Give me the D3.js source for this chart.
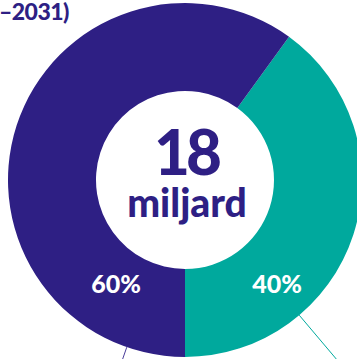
<!DOCTYPE html>
<html>
<head>
<meta charset="utf-8">
<script src="https://cdn.jsdelivr.net/npm/d3@7"></script>
<style>
  html, body { margin: 0; padding: 0; background: #fff; }
  svg { display: block; }
</style>
</head>
<body>
<svg id="chart" width="357" height="359"></svg>
<script>
// Share of the total, split in two parts
const categories = ["Del A", "Del B"];
const shares = [40, 60];
const shareLabels = ["40%", "60%"];
const colors = ["#00a99d", "#2e1f84"];
const totalValue = "18";
const totalUnit = "miljard";
const titleText = "–2031)";

const width = 357, height = 359;
const cx = 185, cy = 180;
const outerR = 177, innerR = 89;
const deg = Math.PI / 180;

const svg = d3.select("#chart");

// Title, continuing past the left edge
svg.append("text")
  .attr("x", 69).attr("y", 20)
  .attr("text-anchor", "end")
  .attr("font-family", "Lato, 'Open Sans', sans-serif")
  .attr("font-weight", 900)
  .attr("font-size", 23)
  .attr("letter-spacing", -0.5)
  .attr("fill", "#2e1f84")
  .text(titleText);

const g = svg.append("g").attr("transform", `translate(${cx},${cy})`);

// The first slice ends straight down, at 6 o'clock
const start = Math.PI - (shares[0] / d3.sum(shares)) * 2 * Math.PI;
const pie = d3.pie().sort(null).value(d => d)
  .startAngle(start).endAngle(start + 2 * Math.PI);
const arcs = pie(shares);
const arc = d3.arc().innerRadius(innerR).outerRadius(outerR);

g.selectAll("path.slice")
  .data(arcs)
  .enter().append("path")
  .attr("class", "slice")
  .attr("d", arc)
  .attr("fill", (d, i) => colors[i]);

// Leader lines running out to labels beyond the frame
const leaderAngles = [139.8, 199.2];
const leaderColors = ["#00a99d", "#4a3c99"];
g.selectAll("line.leader")
  .data(leaderAngles)
  .enter().append("line")
  .attr("class", "leader")
  .attr("x1", a => Math.sin(a * deg) * outerR)
  .attr("y1", a => -Math.cos(a * deg) * outerR)
  .attr("x2", a => Math.sin(a * deg) * 240)
  .attr("y2", a => -Math.cos(a * deg) * 240)
  .attr("stroke", (a, i) => leaderColors[i])
  .attr("stroke-width", 1);

// Percentage labels inside the ring
const labelPos = [[92, 113], [-69, 113]];
g.selectAll("text.share")
  .data(arcs)
  .enter().append("text")
  .attr("class", "share")
  .attr("x", (d, i) => labelPos[i][0])
  .attr("y", (d, i) => labelPos[i][1])
  .attr("text-anchor", "middle")
  .attr("font-family", "Lato, 'Open Sans', sans-serif")
  .attr("font-weight", 900)
  .attr("font-size", 25)
  .attr("fill", "#ffffff")
  .text((d, i) => shareLabels[i]);

// Total in the hole
g.append("text")
  .attr("x", 1).attr("y", -5)
  .attr("text-anchor", "middle")
  .attr("font-family", "Lato, 'Open Sans', sans-serif")
  .attr("font-weight", 900)
  .attr("font-size", 62)
  .attr("letter-spacing", -4)
  .attr("fill", "#2e1f84")
  .text(totalValue);

g.append("text")
  .attr("x", 2).attr("y", 37)
  .attr("text-anchor", "middle")
  .attr("font-family", "Lato, 'Open Sans', sans-serif")
  .attr("font-weight", 900)
  .attr("font-size", 39)
  .attr("fill", "#2e1f84")
  .text(totalUnit);
</script>
</body>
</html>
